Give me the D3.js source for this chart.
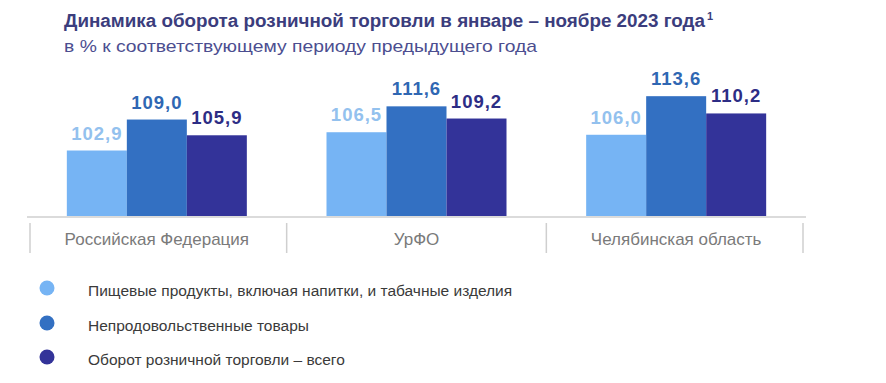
<!DOCTYPE html>
<html><head><meta charset="utf-8">
<script src="https://cdn.jsdelivr.net/npm/d3@7"></script>
<style>body{margin:0;background:#fff}svg{display:block}</style>
</head><body>
<svg id="chart" width="886" height="383"></svg>
<script>
const titleText = "Динамика оборота розничной торговли в январе – ноябре 2023 года";
const subtitleText = "в % к соответствующему периоду предыдущего года";
const categories = ["Российская Федерация", "УрФО", "Челябинская область"];
const seriesNames = ["Пищевые продукты, включая напитки, и табачные изделия", "Непродовольственные товары", "Оборот розничной торговли – всего"];
const foodValues = [102.9, 106.5, 106.0];
const nonFoodValues = [109.0, 111.6, 113.6];
const totalValues = [105.9, 109.2, 110.2];
const seriesColors = ["#76b4f4", "#3370c2", "#333399"];
const labelColors = ["#93c1ee", "#2f67b3", "#2d2d85"];

const seriesValues = [foodValues, nonFoodValues, totalValues];
const svg = d3.select("#chart");
const font = "'Liberation Sans', Arial, sans-serif";

svg.append("text").attr("x", 64).attr("y", 27).attr("font-family", font).attr("font-weight", "bold")
  .attr("font-size", 18).attr("fill", "#3b3d7d")
  .attr("textLength", 641).attr("lengthAdjust", "spacingAndGlyphs").text(titleText);
svg.append("text").attr("x", 707).attr("y", 20).attr("font-family", font).attr("font-weight", "bold")
  .attr("font-size", 11).attr("fill", "#3b3d7d").text("1");
svg.append("text").attr("x", 64).attr("y", 52).attr("font-family", font)
  .attr("font-size", 17).attr("fill", "#4c4e90")
  .attr("textLength", 473).attr("lengthAdjust", "spacingAndGlyphs").text(subtitleText);

const x0 = d3.scaleBand().domain(categories).range([27, 806]).padding(0);
const groupW = 180;
const x1 = d3.scaleBand().domain(d3.range(seriesNames.length)).range([0, groupW]).padding(0);
const y = d3.scaleLinear().domain([90, 116]).range([216, 84]);

const groups = svg.append("g").selectAll("g").data(categories).join("g")
  .attr("transform", d => `translate(${x0(d) + (x0.bandwidth() - groupW) / 2},0)`);

groups.each(function(cat, ci) {
  const g = d3.select(this);
  seriesValues.forEach((vals, si) => {
    const v = vals[ci];
    g.append("rect").attr("x", x1(si)).attr("width", x1.bandwidth())
      .attr("y", y(v)).attr("height", y.range()[0] - y(v)).attr("fill", seriesColors[si]);
    g.append("text").attr("x", x1(si) + x1.bandwidth() / 2).attr("y", y(v) - 11)
      .attr("text-anchor", "middle").attr("font-family", font).attr("font-weight", "bold")
      .attr("font-size", 18.5).attr("letter-spacing", 1).attr("fill", labelColors[si])
      .text(d3.format(".1f")(v).replace(".", ","));
  });
});

// axis
const axis = svg.append("g");
axis.append("line").attr("x1", 27).attr("x2", 806).attr("y1", 217).attr("y2", 217)
  .attr("stroke", "#cfcfcf").attr("stroke-width", 1.5);
const bounds = categories.map(c => x0(c)).concat([x0(categories[categories.length - 1]) + x0.bandwidth()]);
axis.selectAll("line.sep").data(bounds).join("line").attr("class", "sep")
  .attr("x1", (d, i) => i === 0 ? d + 3 : (i === bounds.length - 1 ? d - 3 : d))
  .attr("x2", (d, i) => i === 0 ? d + 3 : (i === bounds.length - 1 ? d - 3 : d))
  .attr("y1", 223).attr("y2", 253)
  .attr("stroke", "#cfcfcf").attr("stroke-width", 1.5);
axis.selectAll("text").data(categories).join("text")
  .attr("x", d => x0(d) + x0.bandwidth() / 2).attr("y", 245).attr("text-anchor", "middle")
  .attr("font-family", font).attr("font-size", 17).attr("fill", "#7a7a7a").text(d => d);

// legend
const legendY = [288, 323, 357];
const leg = svg.append("g").selectAll("g").data(seriesNames).join("g");
leg.append("circle").attr("cx", 47).attr("cy", (d, i) => legendY[i]).attr("r", 7.5)
  .attr("fill", (d, i) => seriesColors[i]);
leg.append("text").attr("x", 88).attr("y", (d, i) => legendY[i] + 8)
  .attr("font-family", font).attr("font-size", 15.5).attr("fill", "#3a3a3a").text(d => d);
</script>
</body></html>
